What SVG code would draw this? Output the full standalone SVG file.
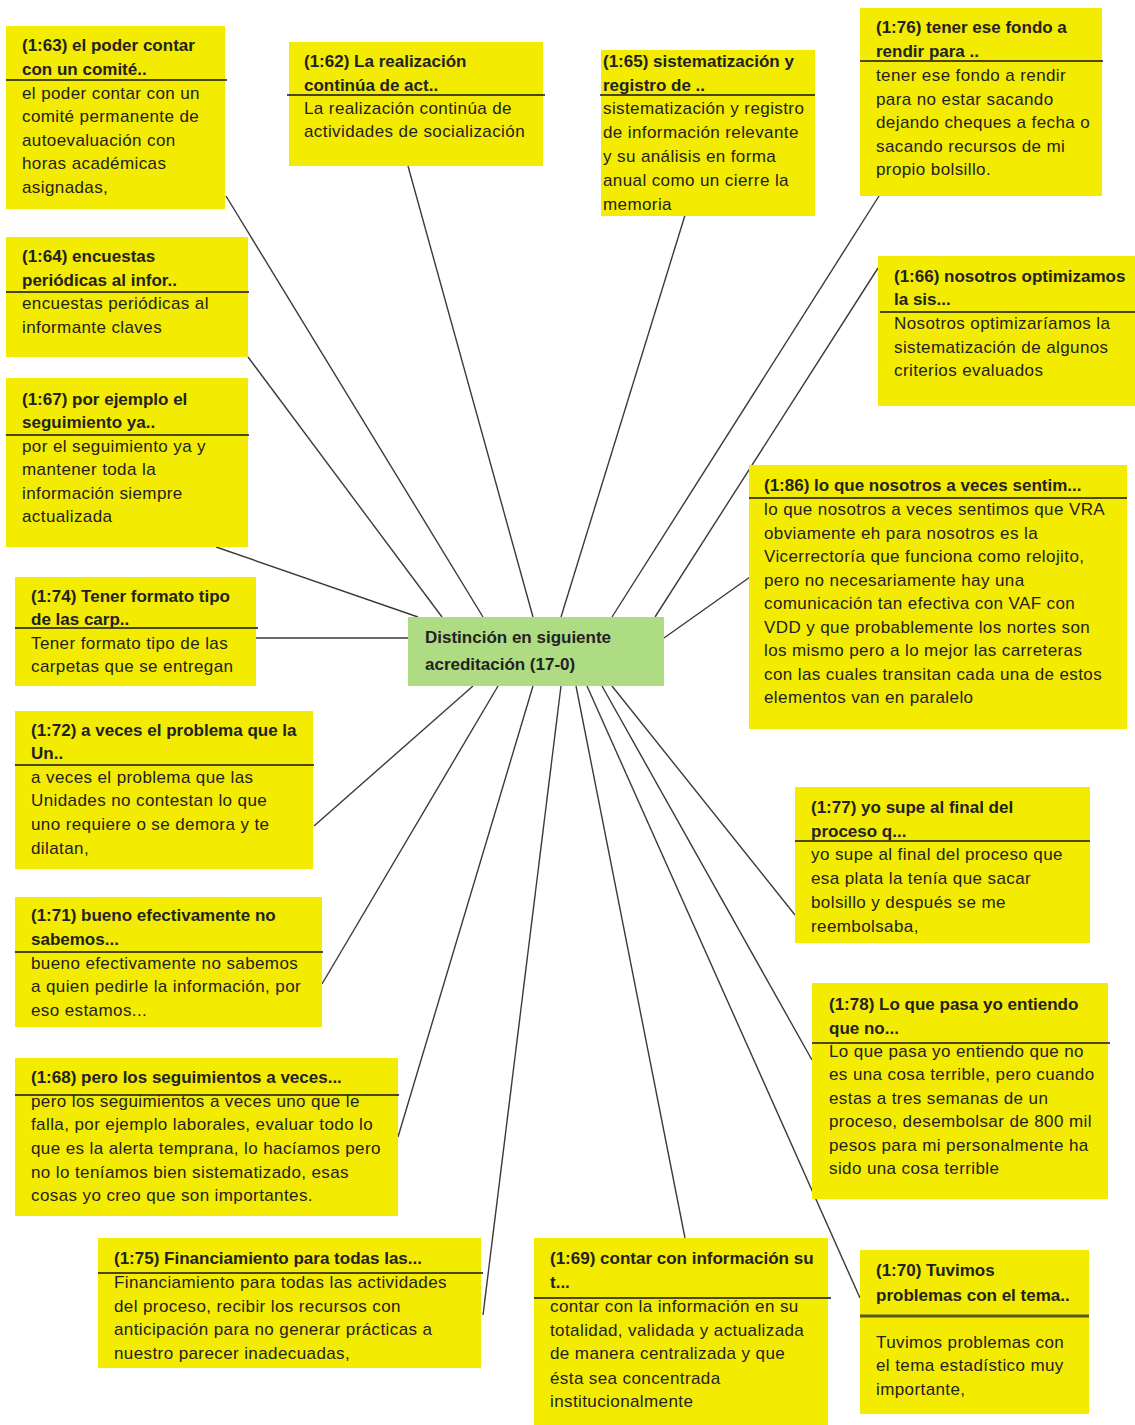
<svg xmlns="http://www.w3.org/2000/svg" width="1135" height="1425" viewBox="0 0 1135 1425">
  <style>
    .box { fill: #f4ec00; }
    .hub { fill: #aedc82; }
    .rule { stroke: #111; stroke-width: 1.6; }
    .rule-heavy { stroke: #55550f; stroke-width: 3; }
    .title { font-family: "Liberation Sans", Arial, sans-serif; font-size: 17px; font-weight: bold; fill: #222; }
    .body { font-family: "Liberation Sans", Arial, sans-serif; font-size: 17px; letter-spacing: 0.4px; fill: #222; }
    .link { stroke: #3a3a3a; stroke-width: 1.4; fill: none; }
  </style>

  <rect width="1135" height="1425" fill="#ffffff"/>

  <!-- connectors from each quotation to the central code -->
  <g id="connectors">
    <line class="link" x1="226" y1="196" x2="483" y2="617"/>
    <line class="link" x1="408" y1="166" x2="533" y2="617"/>
    <line class="link" x1="686" y1="212" x2="561" y2="617"/>
    <line class="link" x1="879" y1="196" x2="612" y2="617"/>
    <line class="link" x1="878" y1="268" x2="655" y2="617"/>
    <line class="link" x1="248" y1="357" x2="442" y2="617"/>
    <line class="link" x1="216" y1="547" x2="418" y2="617"/>
    <line class="link" x1="256" y1="638" x2="408" y2="638"/>
    <line class="link" x1="750" y1="577" x2="664" y2="638"/>
    <line class="link" x1="314" y1="826" x2="473" y2="686"/>
    <line class="link" x1="322" y1="984" x2="498" y2="686"/>
    <line class="link" x1="398" y1="1137" x2="533" y2="686"/>
    <line class="link" x1="483" y1="1315" x2="561" y2="686"/>
    <line class="link" x1="685" y1="1238" x2="576" y2="686"/>
    <line class="link" x1="860" y1="1298" x2="587" y2="686"/>
    <line class="link" x1="812" y1="1060" x2="602" y2="686"/>
    <line class="link" x1="795" y1="915" x2="612" y2="686"/>
  </g>

  <!-- central code -->
  <g id="hub">
    <rect class="hub" x="408" y="617" width="256" height="69"/>
    <text class="title" x="425" y="643">Distinción en siguiente</text>
    <text class="title" x="425" y="670">acreditación (17-0)</text>
  </g>

  <g id="q-1-63">
    <rect class="box" x="6" y="26" width="219" height="183"/>
    <line class="rule" x1="6" y1="80" x2="227" y2="80"/>
    <text class="title" x="22" y="51">(1:63) el poder contar</text>
    <text class="title" x="22" y="75">con un comité..</text>
    <text class="body" x="22" y="99">el poder contar con un</text>
    <text class="body" x="22" y="122">comité permanente de</text>
    <text class="body" x="22" y="146">autoevaluación con</text>
    <text class="body" x="22" y="169">horas académicas</text>
    <text class="body" x="22" y="193">asignadas,</text>
  </g>

  <g id="q-1-62">
    <rect class="box" x="289" y="42" width="254" height="124"/>
    <line class="rule" x1="287" y1="95" x2="545" y2="95"/>
    <text class="title" x="304" y="67">(1:62) La realización</text>
    <text class="title" x="304" y="91">continúa de act..</text>
    <text class="body" x="304" y="114">La realización continúa de</text>
    <text class="body" x="304" y="137">actividades de socialización</text>
  </g>

  <g id="q-1-65">
    <rect class="box" x="601" y="50" width="214" height="166"/>
    <line class="rule" x1="600" y1="95" x2="815" y2="95"/>
    <text class="title" x="603" y="67">(1:65) sistematización y</text>
    <text class="title" x="603" y="91">registro de ..</text>
    <text class="body" x="603" y="114">sistematización y registro</text>
    <text class="body" x="603" y="138">de información relevante</text>
    <text class="body" x="603" y="162">y su análisis en forma</text>
    <text class="body" x="603" y="186">anual como un cierre la</text>
    <text class="body" x="603" y="210">memoria</text>
  </g>

  <g id="q-1-76">
    <rect class="box" x="860" y="8" width="242" height="188"/>
    <line class="rule" x1="860" y1="61" x2="1103" y2="61"/>
    <text class="title" x="876" y="33">(1:76) tener ese fondo a</text>
    <text class="title" x="876" y="57">rendir para ..</text>
    <text class="body" x="876" y="81">tener ese fondo a rendir</text>
    <text class="body" x="876" y="105">para no estar sacando</text>
    <text class="body" x="876" y="128">dejando cheques a fecha o</text>
    <text class="body" x="876" y="152">sacando recursos de mi</text>
    <text class="body" x="876" y="175">propio bolsillo.</text>
  </g>

  <g id="q-1-66">
    <rect class="box" x="878" y="256" width="257" height="150"/>
    <line class="rule" x1="880" y1="312" x2="1135" y2="312"/>
    <text class="title" x="894" y="282">(1:66) nosotros optimizamos</text>
    <text class="title" x="894" y="305">la sis...</text>
    <text class="body" x="894" y="329">Nosotros optimizaríamos la</text>
    <text class="body" x="894" y="353">sistematización de algunos</text>
    <text class="body" x="894" y="376">criterios evaluados</text>
  </g>

  <g id="q-1-64">
    <rect class="box" x="6" y="237" width="242" height="120"/>
    <line class="rule" x1="6" y1="292" x2="249" y2="292"/>
    <text class="title" x="22" y="262">(1:64) encuestas</text>
    <text class="title" x="22" y="286">periódicas al infor..</text>
    <text class="body" x="22" y="309">encuestas periódicas al</text>
    <text class="body" x="22" y="333">informante claves</text>
  </g>

  <g id="q-1-67">
    <rect class="box" x="6" y="378" width="242" height="169"/>
    <line class="rule" x1="6" y1="435" x2="249" y2="435"/>
    <text class="title" x="22" y="405">(1:67) por ejemplo el</text>
    <text class="title" x="22" y="428">seguimiento ya..</text>
    <text class="body" x="22" y="452">por el seguimiento ya y</text>
    <text class="body" x="22" y="475">mantener toda la</text>
    <text class="body" x="22" y="499">información siempre</text>
    <text class="body" x="22" y="522">actualizada</text>
  </g>

  <g id="q-1-74">
    <rect class="box" x="15" y="577" width="241" height="109"/>
    <line class="rule" x1="15" y1="628" x2="258" y2="628"/>
    <text class="title" x="31" y="602">(1:74) Tener formato tipo</text>
    <text class="title" x="31" y="625">de las carp..</text>
    <text class="body" x="31" y="649">Tener formato tipo de las</text>
    <text class="body" x="31" y="672">carpetas que se entregan</text>
  </g>

  <g id="q-1-86">
    <rect class="box" x="749" y="465" width="378" height="264"/>
    <line class="rule" x1="749" y1="498" x2="1127" y2="498"/>
    <text class="title" x="764" y="491">(1:86) lo que nosotros a veces sentim...</text>
    <text class="body" x="764" y="515">lo que nosotros a veces sentimos que VRA</text>
    <text class="body" x="764" y="539">obviamente eh para nosotros es la</text>
    <text class="body" x="764" y="562">Vicerrectoría que funciona como relojito,</text>
    <text class="body" x="764" y="586">pero no necesariamente hay una</text>
    <text class="body" x="764" y="609">comunicación tan efectiva con VAF con</text>
    <text class="body" x="764" y="633">VDD y que probablemente los nortes son</text>
    <text class="body" x="764" y="656">los mismo pero a lo mejor las carreteras</text>
    <text class="body" x="764" y="680">con las cuales transitan cada una de estos</text>
    <text class="body" x="764" y="703">elementos van en paralelo</text>
  </g>

  <g id="q-1-72">
    <rect class="box" x="15" y="711" width="298" height="158"/>
    <line class="rule" x1="15" y1="765" x2="314" y2="765"/>
    <text class="title" x="31" y="736">(1:72) a veces el problema que la</text>
    <text class="title" x="31" y="759">Un..</text>
    <text class="body" x="31" y="783">a veces el problema que las</text>
    <text class="body" x="31" y="806">Unidades no contestan lo que</text>
    <text class="body" x="31" y="830">uno requiere o se demora y te</text>
    <text class="body" x="31" y="854">dilatan,</text>
  </g>

  <g id="q-1-71">
    <rect class="box" x="15" y="897" width="307" height="130"/>
    <line class="rule" x1="15" y1="952" x2="323" y2="952"/>
    <text class="title" x="31" y="921">(1:71) bueno efectivamente no</text>
    <text class="title" x="31" y="945">sabemos...</text>
    <text class="body" x="31" y="969">bueno efectivamente no sabemos</text>
    <text class="body" x="31" y="992">a quien pedirle la información, por</text>
    <text class="body" x="31" y="1016">eso estamos...</text>
  </g>

  <g id="q-1-68">
    <rect class="box" x="15" y="1058" width="383" height="158"/>
    <line class="rule" x1="15" y1="1095" x2="399" y2="1095"/>
    <text class="title" x="31" y="1083">(1:68) pero los seguimientos a veces...</text>
    <text class="body" x="31" y="1107">pero los seguimientos a veces uno que le</text>
    <text class="body" x="31" y="1130">falla, por ejemplo laborales, evaluar todo lo</text>
    <text class="body" x="31" y="1154">que es la alerta temprana, lo hacíamos pero</text>
    <text class="body" x="31" y="1178">no lo teníamos bien sistematizado, esas</text>
    <text class="body" x="31" y="1201">cosas yo creo que son importantes.</text>
  </g>

  <g id="q-1-77">
    <rect class="box" x="795" y="787" width="295" height="156"/>
    <line class="rule" x1="795" y1="841" x2="1090" y2="841"/>
    <text class="title" x="811" y="813">(1:77) yo supe al final del</text>
    <text class="title" x="811" y="837">proceso q...</text>
    <text class="body" x="811" y="860">yo supe al final del proceso que</text>
    <text class="body" x="811" y="884">esa plata la tenía que sacar</text>
    <text class="body" x="811" y="908">bolsillo y después se me</text>
    <text class="body" x="811" y="932">reembolsaba,</text>
  </g>

  <g id="q-1-78">
    <rect class="box" x="812" y="983" width="296" height="216"/>
    <line class="rule" x1="812" y1="1043" x2="1110" y2="1043"/>
    <text class="title" x="829" y="1010">(1:78) Lo que pasa yo entiendo</text>
    <text class="title" x="829" y="1034">que no...</text>
    <text class="body" x="829" y="1057">Lo que pasa yo entiendo que no</text>
    <text class="body" x="829" y="1080">es una cosa terrible, pero cuando</text>
    <text class="body" x="829" y="1104">estas a tres semanas de un</text>
    <text class="body" x="829" y="1127">proceso, desembolsar de 800 mil</text>
    <text class="body" x="829" y="1151">pesos para mi personalmente ha</text>
    <text class="body" x="829" y="1174">sido una cosa terrible</text>
  </g>

  <g id="q-1-75">
    <rect class="box" x="98" y="1238" width="383" height="130"/>
    <line class="rule" x1="98" y1="1273" x2="483" y2="1273"/>
    <text class="title" x="114" y="1264">(1:75) Financiamiento para todas las...</text>
    <text class="body" x="114" y="1288">Financiamiento para todas las actividades</text>
    <text class="body" x="114" y="1312">del proceso, recibir los recursos con</text>
    <text class="body" x="114" y="1335">anticipación para no generar prácticas a</text>
    <text class="body" x="114" y="1359">nuestro parecer inadecuadas,</text>
  </g>

  <g id="q-1-69">
    <rect class="box" x="534" y="1238" width="294" height="187"/>
    <line class="rule" x1="534" y1="1298" x2="831" y2="1298"/>
    <text class="title" x="550" y="1264">(1:69) contar con información su</text>
    <text class="title" x="550" y="1288">t...</text>
    <text class="body" x="550" y="1312">contar con la información en su</text>
    <text class="body" x="550" y="1336">totalidad, validada y actualizada</text>
    <text class="body" x="550" y="1359">de manera centralizada y que</text>
    <text class="body" x="550" y="1384">ésta sea concentrada</text>
    <text class="body" x="550" y="1407">institucionalmente</text>
  </g>

  <g id="q-1-70">
    <rect class="box" x="860" y="1250" width="229" height="164"/>
    <line class="rule-heavy" x1="860" y1="1316" x2="1089" y2="1316"/>
    <text class="title" x="876" y="1276">(1:70) Tuvimos</text>
    <text class="title" x="876" y="1301">problemas con el tema..</text>
    <text class="body" x="876" y="1348">Tuvimos problemas con</text>
    <text class="body" x="876" y="1371">el tema estadístico muy</text>
    <text class="body" x="876" y="1395">importante,</text>
  </g>
</svg>
